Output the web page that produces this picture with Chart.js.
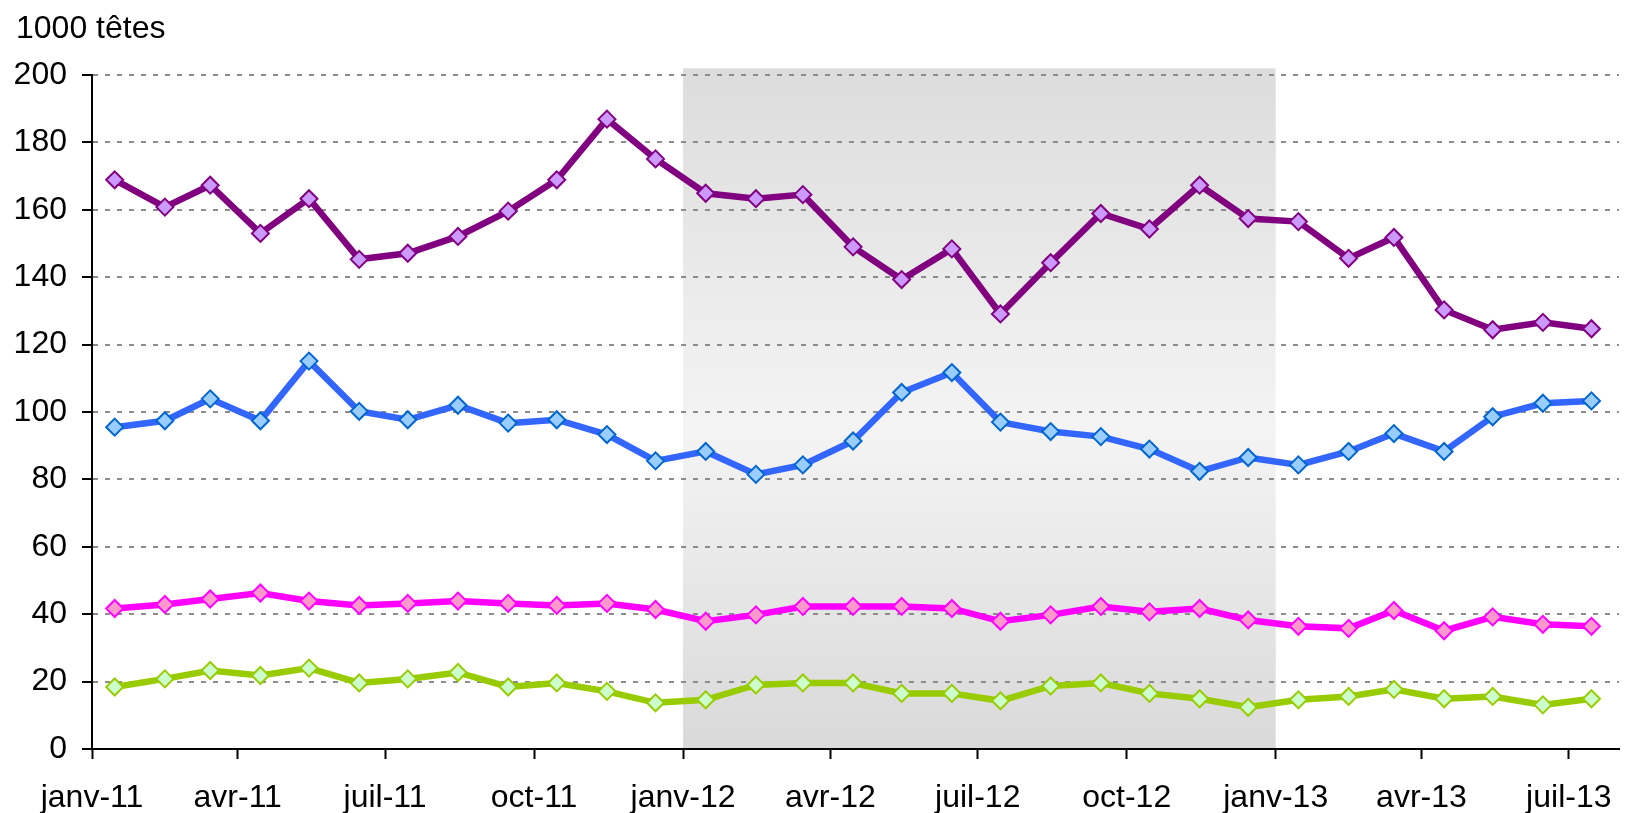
<!DOCTYPE html>
<html>
<head>
<meta charset="utf-8">
<script src="https://cdn.jsdelivr.net/npm/chart.js@4.4.1/dist/chart.umd.min.js"></script>
<style>
  body { margin: 0; background: #fff; }
  canvas { display: block; }
</style>
</head>
<body>
<canvas id="cheptel" width="1643" height="813"></canvas>
<script>
// Mois (une valeur par mois, point placé au milieu du mois)
const months = [
  '2011-01', '2011-02', '2011-03', '2011-04', '2011-05', '2011-06',
  '2011-07', '2011-08', '2011-09', '2011-10', '2011-11', '2011-12',
  '2012-01', '2012-02', '2012-03', '2012-04', '2012-05', '2012-06',
  '2012-07', '2012-08', '2012-09', '2012-10', '2012-11', '2012-12',
  '2013-01', '2013-02', '2013-03', '2013-04', '2013-05', '2013-06',
  '2013-07'
];

// Séries en milliers de têtes
const serieViolet = [
  168.9, 160.8, 167.3, 153.0, 163.3, 145.3, 147.1, 152.1, 159.6, 168.9, 186.9, 175.1,
  164.9, 163.3, 164.5, 149.0, 139.3, 148.4, 129.1, 144.3, 158.9, 154.3, 167.3, 157.4,
  156.5, 145.6, 151.8, 130.3, 124.4, 126.6, 124.7
];
const serieBleu = [
  95.5, 97.4, 103.9, 97.4, 115.1, 100.2, 97.7, 102.0, 96.7, 97.7, 93.3, 85.5,
  88.3, 81.5, 84.3, 91.4, 105.8, 111.7, 97.0, 94.2, 92.7, 89.0, 82.4, 86.5,
  84.3, 88.3, 93.6, 88.3, 98.6, 102.6, 103.3
];
const serieRose = [
  41.7, 42.9, 44.5, 46.3, 43.9, 42.6, 43.2, 43.9, 43.2, 42.6, 43.2, 41.4,
  37.9, 39.8, 42.3, 42.3, 42.3, 41.7, 37.9, 39.8, 42.3, 40.7, 41.7, 38.3,
  36.4, 35.8, 41.1, 35.1, 39.2, 37.0, 36.4
];
const serieVert = [
  18.4, 20.8, 23.3, 21.8, 24.0, 19.6, 20.8, 22.7, 18.4, 19.6, 17.1, 13.7,
  14.6, 19.0, 19.6, 19.6, 16.5, 16.5, 14.3, 18.7, 19.6, 16.5, 14.9, 12.4,
  14.6, 15.6, 17.7, 14.9, 15.6, 13.1, 14.9
];

// Graduations de l'axe des dates
const tickMonths = ['2011-01', '2011-04', '2011-07', '2011-10', '2012-01', '2012-04',
                    '2012-07', '2012-10', '2013-01', '2013-04', '2013-07'];
const tickLabels = ['janv-11', 'avr-11', 'juil-11', 'oct-11', 'janv-12', 'avr-12',
                    'juil-12', 'oct-12', 'janv-13', 'avr-13', 'juil-13'];

// Période grisée
const shadeFrom = '2012-01';
const shadeTo = '2013-01';

// Nombre de jours depuis le 1er janvier 2011
function dayOf(ym, d) {
  const [y, m] = ym.split('-').map(Number);
  return (Date.UTC(y, m - 1, d) - Date.UTC(2011, 0, 1)) / 86400000;
}

function toPoints(values) {
  return values.map((v, i) => ({ x: dayOf(months[i], 15), y: v }));
}

const FONT = 'Liberation Sans, Arial, sans-serif';

function serie(data, line, fill, border) {
  return {
    data: toPoints(data),
    borderColor: line,
    borderWidth: 6.5,
    pointStyle: 'rectRot',
    pointRadius: 8.5,
    pointBackgroundColor: fill,
    pointBorderColor: border,
    pointBorderWidth: 2,
    tension: 0
  };
}

// Fond dégradé pour l'année 2012 et titre de l'axe
const decor = {
  id: 'decor',
  beforeDraw(chart) {
    const { ctx, scales: { x, y } } = chart;
    const x1 = x.getPixelForValue(dayOf(shadeFrom, 1));
    const x2 = x.getPixelForValue(dayOf(shadeTo, 1));
    const top = y.getPixelForValue(202);
    const bottom = y.getPixelForValue(0);
    const g = ctx.createLinearGradient(0, top, 0, bottom);
    g.addColorStop(0, '#dcdcdc');
    g.addColorStop(0.53, '#f4f4f4');
    g.addColorStop(1, '#d9d9d9');
    ctx.save();
    ctx.fillStyle = g;
    ctx.fillRect(x1, top, x2 - x1, bottom - top);
    ctx.restore();
  },
  afterDraw(chart) {
    const ctx = chart.ctx;
    ctx.save();
    ctx.font = '32px ' + FONT;
    ctx.fillStyle = '#000';
    ctx.textBaseline = 'middle';
    ctx.fillText('1000 têtes', 16, 29);
    ctx.restore();
  }
};

const ctx = document.getElementById('cheptel').getContext('2d');
const chart = new Chart(ctx, {
  type: 'line',
  data: {
    datasets: [
      serie(serieViolet, '#800080', '#cc99ff', '#800080'),
      serie(serieBleu, '#3366ff', '#99ccff', '#0066cc'),
      serie(serieRose, '#ff00ff', '#ff99cc', '#ff00ff'),
      serie(serieVert, '#99cc00', '#ccffcc', '#99cc00')
    ]
  },
  options: {
    responsive: false,
    animation: false,
    devicePixelRatio: 1,
    layout: { padding: { top: 75, right: 24, left: 0, bottom: 0 } },
    plugins: {
      legend: { display: false },
      tooltip: { enabled: false }
    },
    scales: {
      x: {
        type: 'linear',
        min: 0,
        max: dayOf('2013-08', 1),
        afterBuildTicks(scale) {
          scale.ticks = tickMonths.map(m => ({ value: dayOf(m, 1) }));
        },
        afterFit(scale) { scale.height = 64; },
        ticks: {
          autoSkip: false,
          maxRotation: 0,
          padding: 20,
          color: '#000',
          font: { family: FONT, size: 32 },
          callback: (value, index) => tickLabels[index]
        },
        grid: {
          drawOnChartArea: false,
          drawTicks: true,
          tickLength: 10,
          tickColor: '#000',
          tickWidth: 2
        },
        border: { color: '#000', width: 2 }
      },
      y: {
        min: 0,
        max: 200,
        afterFit(scale) { scale.width = 92; },
        ticks: {
          stepSize: 20,
          padding: 15,
          color: '#000',
          font: { family: FONT, size: 32 }
        },
        grid: {
          color: '#8c8c8c',
          lineWidth: 2,
          tickLength: 10,
          tickColor: '#000',
          tickWidth: 2
        },
        border: { color: '#000', width: 2, dash: [5, 7] }
      }
    }
  },
  plugins: [decor]
});
</script>
</body>
</html>
